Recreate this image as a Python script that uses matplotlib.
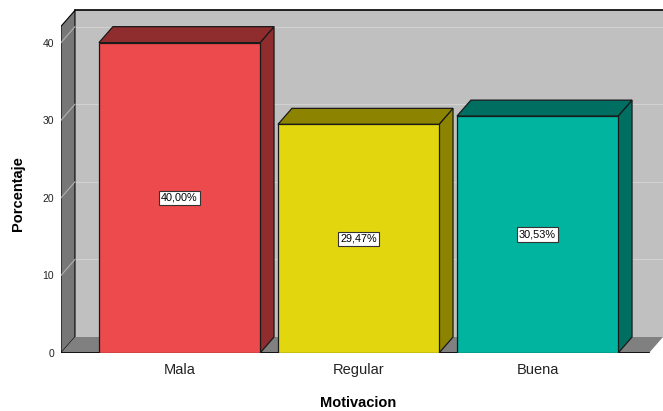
import matplotlib.pyplot as plt
from matplotlib.patches import Polygon

categories = ["Mala", "Regular", "Buena"]
porcentajes = [40.00, 29.47, 30.53]
front_colors = ["#ec4a4c", "#e2d70e", "#00b4a0"]
side_colors = ["#8e2c2e", "#8c8400", "#006f62"]
yticks = [0, 10, 20, 30, 40]

# depth of the fake 3D effect, in data units
DX = 0.078
DY = 2.06
BAR_W = 0.9
X_LEFT, X_RIGHT = -0.662, 2.701
Y_TOP = 42.1  # front-plane top of the walls

fig = plt.figure(figsize=(6.63, 4.11), dpi=100)
ax = fig.add_axes([61 / 663, 58 / 411, 602 / 663, 348 / 411])
ax.set_xlim(X_LEFT, X_RIGHT)
ax.set_ylim(0, 44.85)

# back wall
ax.add_patch(Polygon([(X_LEFT + DX, DY), (X_RIGHT, DY), (X_RIGHT, Y_TOP + DY),
                      (X_LEFT + DX, Y_TOP + DY)], closed=True,
                     facecolor="#c0c0c0", edgecolor="none", zorder=1))
ax.plot([X_LEFT + DX, X_RIGHT], [Y_TOP + DY, Y_TOP + DY], color="black", lw=1.2, zorder=2)
# left wall
ax.add_patch(Polygon([(X_LEFT, 0), (X_LEFT + DX, DY), (X_LEFT + DX, Y_TOP + DY),
                      (X_LEFT, Y_TOP)], closed=True,
                     facecolor="#777777", edgecolor="black", lw=0.8, zorder=2))
# floor
ax.add_patch(Polygon([(X_LEFT, 0), (X_RIGHT - DX, 0), (X_RIGHT, DY), (X_LEFT + DX, DY)],
                     closed=True, facecolor="#808080", edgecolor="none", zorder=2))
ax.plot([X_LEFT, X_RIGHT - DX], [0, 0], color="black", lw=1.2, zorder=3)

# gridlines
for t in yticks[1:]:
    ax.plot([X_LEFT + DX, X_RIGHT], [t + DY, t + DY], color="#d2d2d2", lw=0.8, zorder=1.5)
    ax.plot([X_LEFT, X_LEFT + DX], [t, t + DY], color="#b0b0b0", lw=0.8, zorder=2.5)

# bars
for i, (v, fc, sc) in enumerate(zip(porcentajes, front_colors, side_colors)):
    x0, x1 = i - BAR_W / 2, i + BAR_W / 2
    ax.add_patch(Polygon([(x1, 0), (x1 + DX, DY), (x1 + DX, v + DY), (x1, v)], closed=True,
                         facecolor=sc, edgecolor="#1a1a1a", lw=0.9, zorder=4))
    ax.add_patch(Polygon([(x0, v), (x0 + DX, v + DY), (x1 + DX, v + DY), (x1, v)], closed=True,
                         facecolor=sc, edgecolor="#1a1a1a", lw=0.9, zorder=4))
    ax.add_patch(Polygon([(x0, 0), (x1, 0), (x1, v), (x0, v)], closed=True,
                         facecolor=fc, edgecolor="#1a1a1a", lw=0.9, zorder=5))
    ax.text(i, v / 2, "{:.2f}%".format(v).replace(".", ","), ha="center", va="center",
            fontsize=7.8, family="Liberation Sans", zorder=6,
            bbox=dict(boxstyle="square,pad=0.2", facecolor="white", edgecolor="#333333", lw=0.8))

for s in ax.spines.values():
    s.set_visible(False)
ax.set_yticks(yticks)
ax.set_yticklabels([str(t) for t in yticks], fontsize=7.5, family="Liberation Sans", color="#222222")
ax.set_xticks(range(len(categories)))
ax.set_xticklabels(categories, fontsize=10.5, family="Liberation Sans", color="#222222")
ax.tick_params(axis="y", length=0, pad=5)
ax.tick_params(axis="x", length=0, pad=7)
ax.set_ylabel("Porcentaje", fontsize=10.5, fontweight="bold", family="Liberation Sans",
              va="center")
ax.set_xlabel("Motivacion", fontsize=10.5, fontweight="bold", family="Liberation Sans",
              va="center")
ax.yaxis.set_label_coords(-0.0714, 20.5 / 44.85)
ax.xaxis.set_label_coords(0.494, -0.1437)

fig.savefig("out.png", dpi=100)
